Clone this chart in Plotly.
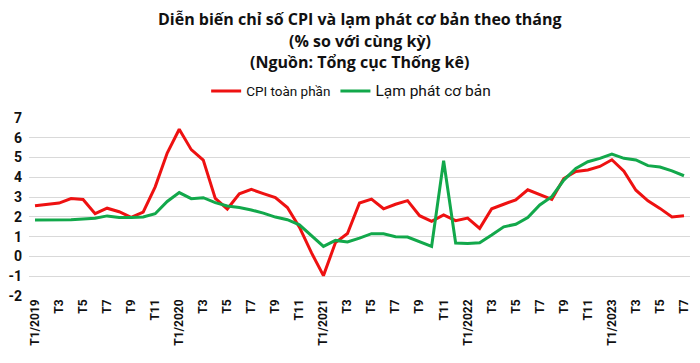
import plotly.graph_objects as go

months = [f"T{m}/{y}" for y in range(2019, 2024) for m in range(1, 13)][:55]

cpi = [2.56, 2.64, 2.70, 2.93, 2.88, 2.16, 2.44, 2.26, 1.98, 2.24, 3.52, 5.23,
       6.43, 5.40, 4.87, 2.93, 2.40, 3.17, 3.39, 3.18, 2.98, 2.47, 1.48, 0.19,
       -0.97, 0.70, 1.16, 2.70, 2.90, 2.41, 2.64, 2.82, 2.06, 1.77, 2.10, 1.81,
       1.94, 1.42, 2.41, 2.64, 2.86, 3.37, 3.14, 2.89, 3.94, 4.30, 4.37, 4.55,
       4.89, 4.31, 3.35, 2.81, 2.43, 2.00, 2.06]

core = [1.84, 1.84, 1.84, 1.86, 1.89, 1.93, 2.05, 1.97, 1.97, 2.00, 2.16, 2.78,
        3.23, 2.92, 2.97, 2.72, 2.55, 2.47, 2.35, 2.19, 1.99, 1.86, 1.60, 1.05,
        0.51, 0.81, 0.73, 0.93, 1.15, 1.15, 1.00, 0.98, 0.76, 0.51, 4.84, 0.68,
        0.66, 0.69, 1.08, 1.50, 1.63, 1.97, 2.60, 3.02, 3.86, 4.45, 4.79, 4.96,
        5.18, 4.96, 4.88, 4.59, 4.52, 4.33, 4.08]

tick_labels = ["T1/2019", "T3", "T5", "T7", "T9", "T11",
               "T1/2020", "T3", "T5", "T7", "T9", "T11",
               "T1/2021", "T3", "T5", "T7", "T9", "T11",
               "T1/2022", "T3", "T5", "T7", "T9", "T11",
               "T1/2023", "T3", "T5", "T7"]

title_lines = ["Diễn biến chỉ số CPI và lạm phát cơ bản theo tháng",
               "(% so với cùng kỳ)",
               "(Nguồn: Tổng cục Thống kê)"]

FONT = "Roboto, sans-serif"
TFONT = "Open Sans, sans-serif"

fig = go.Figure()
fig.add_trace(go.Scatter(x=months, y=cpi, mode="lines",
                         name="<span style='font-size:13.5px'>CPI toàn phần</span>",
                         line=dict(color="#EE1111", width=3)))
fig.add_trace(go.Scatter(x=months, y=core, mode="lines",
                         name="<span style='font-size:15.5px'>Lạm phát cơ bản</span>",
                         line=dict(color="#12A84B", width=3)))

for line, ypos in zip(title_lines, [1.556, 1.433, 1.316]):
    fig.add_annotation(text="<b>" + line + "</b>", xref="paper", yref="paper",
                       x=0.5, xanchor="center", y=ypos, yanchor="middle",
                       showarrow=False, font=dict(size=16, family=TFONT, color="#111111"))

fig.update_layout(
    width=700, height=363,
    margin=dict(l=21, r=18, t=110, b=75, autoexpand=False),
    paper_bgcolor="white", plot_bgcolor="white",
    font=dict(family=FONT, color="#222222", size=12),
    legend=dict(orientation="h", x=0.268, xanchor="left", y=1.15, yanchor="middle",
                font=dict(size=14, family=FONT, color="#111111"),
                itemwidth=30, tracegroupgap=0, bgcolor="rgba(0,0,0,0)"),
    showlegend=True,
)
fig.update_xaxes(type="category", range=[-0.5, 54.5], automargin=False,
                 tickvals=months[::2], ticktext=["<b>" + t + "</b>" for t in tick_labels],
                 tickangle=-90, tickfont=dict(size=12, family=FONT, color="#111111"),
                 showgrid=False, showline=False, ticks="", zeroline=False)
fig.update_yaxes(range=[-2, 7], tickvals=list(range(-2, 8)), automargin=False,
                 ticktext=[f"<b>{v}</b>" for v in range(-2, 8)],
                 tickfont=dict(size=14, family=FONT, color="#111111"),
                 showgrid=True, gridcolor="#D9D9D9", gridwidth=1,
                 zeroline=False, showline=False, ticks="", ticklabelstandoff=6)

fig.write_html("out.html")
